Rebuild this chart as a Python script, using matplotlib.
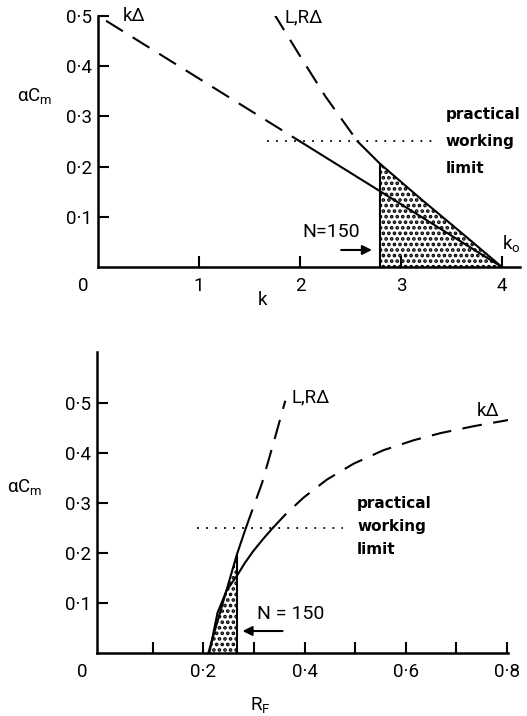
import numpy as np
import matplotlib.pyplot as plt

plt.rcParams['font.family'] = 'Roboto'
plt.rcParams['mathtext.fontset'] = 'custom'
plt.rcParams['mathtext.rm'] = 'Roboto'
plt.rcParams['mathtext.it'] = 'Roboto'
plt.rcParams['mathtext.bf'] = 'Roboto:bold'
plt.rcParams['hatch.linewidth'] = 1.8

# practical working limit on alpha*Cm (dashed above, solid below)
cm_limit = 0.25

#------------------------------------------------------------------------------
# upper plot: alpha*Cm against k
k_kd  = [0.08, 2.0, 4.0]
cm_kd = [0.49, 0.25, 0.0]
k_lr  = [1.74, 2.0, 2.25, 2.57, 2.79, 3.2, 3.6, 4.0]
cm_lr = [0.505, 0.42, 0.34, 0.25, 0.206, 0.135, 0.068, 0.0]
k_n150  = 2.79
k_limit = [1.67, 3.34]
k_ticks = [1, 2, 3, 4]
k_ticklabels = ['1', '2', '3', '4']

#------------------------------------------------------------------------------
# lower plot: alpha*Cm against R_F
rf_lr  = [0.21, 0.266, 0.284, 0.316, 0.34, 0.362]
cmr_lr = [0.0, 0.196, 0.25, 0.34, 0.425, 0.505]
rf_kd  = [0.212, 0.228, 0.246, 0.268, 0.282, 0.298, 0.318, 0.337, 0.362,
          0.398, 0.444, 0.497, 0.556, 0.616, 0.668, 0.734, 0.806]
cmr_kd = [0.0, 0.08, 0.125, 0.157, 0.18, 0.203, 0.228, 0.25, 0.277,
          0.311, 0.347, 0.379, 0.406, 0.426, 0.44, 0.454, 0.467]
rf_n150  = 0.266
rf_limit = [0.188, 0.476]
rf_ticks = [0.1, 0.2, 0.3, 0.4, 0.5, 0.6, 0.7, 0.8]
rf_ticklabels = ['', '0·2', '', '0·4', '', '0·6', '', '0·8']

cm_ticks = [0.1, 0.2, 0.3, 0.4, 0.5]
cm_ticklabels = ['0·1', '0·2', '0·3', '0·4', '0·5']

# plotting settings
lw    = 1.5
fs    = 13.5
fs_wl = 11
dash  = (9.5, 5.5)


def draw_curve(ax, x, y):
    x = np.asarray(x)
    y = np.asarray(y)
    hi = y >= cm_limit
    lo = y <= cm_limit
    ax.plot(x[hi], y[hi], color='k', lw=lw, dashes=dash, solid_capstyle='butt')
    ax.plot(x[lo], y[lo], color='k', lw=lw)


def style_axes(ax):
    for s in ['top', 'right']:
        ax.spines[s].set_visible(False)
    for s in ['left', 'bottom']:
        ax.spines[s].set_linewidth(1.8)
    ax.tick_params(direction='in', length=8, width=1.5, labelsize=fs)
    ax.tick_params(axis='x', pad=7)
    ax.tick_params(axis='y', pad=4.5)
    ax.set_yticks(cm_ticks)
    ax.set_yticklabels(cm_ticklabels)


def working_limit(ax, x, y, dy):
    ax.text(x, y + dy, 'practical', fontsize=fs_wl, family='DejaVu Sans',
            weight='bold', va='center', ha='left')
    ax.text(x, y, 'working', fontsize=fs_wl, family='DejaVu Sans',
            weight='bold', va='center', ha='left')
    ax.text(x, y - dy, 'limit', fontsize=fs_wl, family='DejaVu Sans',
            weight='bold', va='center', ha='left')


fig = plt.figure(figsize=(5.27, 7.16), dpi=100)

#------------------------------------------------------------------------------
# k plot
ax1 = fig.add_axes([0.186, 0.627, 0.801, 0.351])
style_axes(ax1)
ax1.set_xlim(0, 4.18)
ax1.set_ylim(0, 0.5)
ax1.set_xticks(k_ticks)
ax1.set_xticklabels(k_ticklabels)

k_arr = np.asarray(k_lr)
cm_arr = np.asarray(cm_lr)
shade = k_arr >= k_n150
ax1.fill_between(k_arr[shade], cm_arr[shade], 0, facecolor='none',
                 edgecolor='k', hatch='...', linewidth=0)
ax1.plot([k_n150, k_n150], [0, np.interp(k_n150, k_lr, cm_lr)], color='k', lw=lw)
draw_curve(ax1, k_kd, cm_kd)
draw_curve(ax1, k_lr, cm_lr)
ax1.plot(k_limit, [cm_limit, cm_limit], color='k', lw=1.3, linestyle=(0, (1, 4)))

ax1.text(0.24, 0.5, 'kΔ', fontsize=fs, va='center', ha='left')
ax1.text(1.85, 0.496, 'L,RΔ', fontsize=fs, va='center', ha='left')
ax1.text(2.02, 0.069, 'N=150', fontsize=14, va='center', ha='left')
ax1.annotate('', xy=(2.74, 0.034), xytext=(2.38, 0.034),
             arrowprops=dict(arrowstyle='-|>', lw=1.5, color='k', mutation_scale=14))
ax1.text(4.0, 0.046, r'$k_{o}$', fontsize=fs, va='center', ha='left')
working_limit(ax1, 3.445, cm_limit, 0.053)
ax1.text(-0.80, 0.34, r'$\alpha C_{m}$', fontsize=fs, va='center', ha='left')
ax1.text(1.63, -0.066, 'k', fontsize=fs, va='center', ha='center')
ax1.annotate('0', xy=(-0.15, 0), xycoords=('data', 'axes fraction'),
             xytext=(0, -7), textcoords='offset points', ha='center', va='top',
             fontsize=fs, annotation_clip=False)

#------------------------------------------------------------------------------
# R_F plot
ax2 = fig.add_axes([0.184, 0.088, 0.780, 0.420])
style_axes(ax2)
ax2.set_xlim(-0.01, 0.802)
ax2.set_ylim(0, 0.602)
ax2.set_xticks(rf_ticks)
ax2.set_xticklabels(rf_ticklabels)

rf_arr = np.asarray(rf_lr)
cmr_arr = np.asarray(cmr_lr)
shade = rf_arr <= rf_n150
ax2.fill_between(rf_arr[shade], cmr_arr[shade], 0, facecolor='none',
                 edgecolor='k', hatch='...', linewidth=0)
ax2.plot([rf_n150, rf_n150], [0, np.interp(rf_n150, rf_lr, cmr_lr)], color='k', lw=lw)
draw_curve(ax2, rf_lr, cmr_lr)
draw_curve(ax2, rf_kd, cmr_kd)
ax2.plot(rf_limit, [cm_limit, cm_limit], color='k', lw=1.3, linestyle=(0, (1, 4)))

ax2.text(0.375, 0.512, 'L,RΔ', fontsize=fs, va='center', ha='left')
ax2.text(0.741, 0.484, 'kΔ', fontsize=fs, va='center', ha='left')
ax2.text(0.306, 0.078, 'N = 150', fontsize=14, va='center', ha='left')
ax2.annotate('', xy=(0.272, 0.044), xytext=(0.362, 0.044),
             arrowprops=dict(arrowstyle='-|>', lw=1.5, color='k', mutation_scale=14))
working_limit(ax2, 0.504, cm_limit + 0.004, 0.046)
ax2.text(-0.188, 0.332, r'$\alpha C_{m}$', fontsize=fs, va='center', ha='left')
ax2.text(0.312, -0.104, r'$R_{F}$', fontsize=fs, va='center', ha='center')
ax2.annotate('0', xy=(-0.04, 0), xycoords=('data', 'axes fraction'),
             xytext=(0, -7), textcoords='offset points', ha='center', va='top',
             fontsize=fs, annotation_clip=False)

plt.savefig('out.png', dpi=100)
